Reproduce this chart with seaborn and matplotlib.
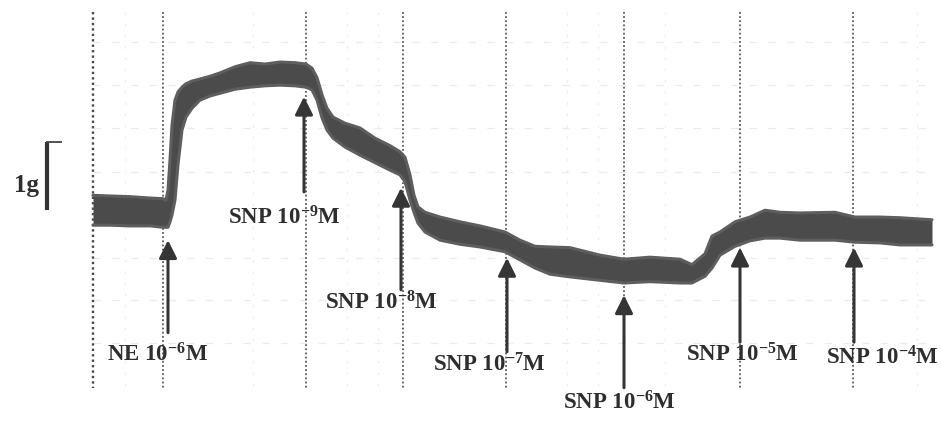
import matplotlib
matplotlib.use("Agg")
import matplotlib.pyplot as plt
import seaborn as sns
import pandas as pd

# ---- data (time in s, tension in g relative to baseline) ----
time_s = [0, 34, 74, 114, 140, 146, 150, 154, 158, 164, 170, 178, 186, 198, 214, 234,
          254, 284, 314, 344, 374, 404, 426, 438, 448, 458, 468, 480, 504, 534, 564,
          594, 614, 624, 634, 642, 650, 664, 694, 734, 774, 824, 854, 884, 914, 954,
          1014, 1062, 1114, 1174, 1198, 1224, 1238, 1254, 1284, 1314, 1344, 1374,
          1414, 1484, 1524, 1574, 1614, 1678]
tension_upper = [0.26, 0.25, 0.24, 0.22, 0.21, 0.19, 0.34, 0.78, 1.29, 1.66, 1.78, 1.85,
                 1.90, 1.94, 1.97, 2.01, 2.06, 2.15, 2.21, 2.19, 2.22, 2.21, 2.19, 2.13,
                 1.99, 1.74, 1.54, 1.41, 1.32, 1.25, 1.10, 0.99, 0.90, 0.82, 0.56, 0.26,
                 0.09, 0.01, -0.06, -0.13, -0.19, -0.28, -0.40, -0.49, -0.50, -0.51,
                 -0.62, -0.68, -0.65, -0.68, -0.76, -0.60, -0.34, -0.28, -0.13, -0.06,
                 0.04, 0.01, 0.00, 0.01, -0.06, -0.06, -0.07, -0.10]
tension_lower = [-0.18, -0.18, -0.19, -0.19, -0.21, -0.21, -0.21, -0.13, -0.03, 0.19,
                 0.71, 1.22, 1.41, 1.54, 1.66, 1.72, 1.76, 1.82, 1.85, 1.87, 1.88, 1.87,
                 1.85, 1.81, 1.66, 1.40, 1.22, 1.10, 0.97, 0.85, 0.74, 0.63, 0.56, 0.46,
                 0.19, 0.01, -0.15, -0.28, -0.40, -0.46, -0.50, -0.57, -0.69, -0.81,
                 -0.90, -0.94, -0.99, -1.03, -1.01, -1.03, -1.03, -0.93, -0.81, -0.62,
                 -0.49, -0.41, -0.37, -0.37, -0.40, -0.40, -0.43, -0.44, -0.47, -0.47]

# drug additions
event_times = [150, 422, 616, 828, 1062, 1294, 1522]
event_drugs = ["NE", "SNP", "SNP", "SNP", "SNP", "SNP", "SNP"]
event_exponents = ["-6", "-9", "-8", "-7", "-6", "-5", "-4"]

# chart-recorder event marker lines
marker_times = [0, 140, 426, 620, 826, 1062, 1294, 1520]
# faint chart paper grid
paper_grid_tension = [2.51, 1.88, 1.25, 0.60, -0.66, -1.28, -1.91]
paper_grid_time = [64, 320, 508, 570, 948, 1010, 1144, 1648]

# ---- layout constants ----
arrow_tip = [-0.40, 1.71, 0.37, -0.66, -1.21, -0.51, -0.51]
arrow_tail = [-1.76, 0.31, -1.13, -2.04, -2.57, -1.90, -1.90]
label_pos = [(130, -2.09), (382, -0.07), (576, -1.32), (792, -2.24),
             (1052, -2.79), (1298, -2.09), (1578, -2.13)]

sns.set_theme(style="white")
plt.rcParams["font.family"] = ["Liberation Serif", "DejaVu Serif"]
plt.rcParams["font.weight"] = "bold"
plt.rcParams["mathtext.fontset"] = "custom"
plt.rcParams["mathtext.rm"] = "Liberation Serif:bold"
plt.rcParams["mathtext.it"] = "Liberation Serif:bold"
plt.rcParams["mathtext.bf"] = "Liberation Serif:bold"

fig = plt.figure(figsize=(9.41, 4.22), dpi=100)
ax = fig.add_axes([0, 0, 1, 1])

# faint paper grid
for g in paper_grid_tension:
    ax.plot([0, 1684], [g, g], color="#ececec", lw=0.9, ls=(0, (6, 9)), zorder=0)
for t in paper_grid_time:
    ax.plot([t, t], [2.96, -2.57], color="#ededed", lw=0.9, ls=(0, (2, 7)), zorder=0)

# event marker lines
for i, t in enumerate(marker_times):
    ax.plot([t, t], [2.96, -2.57], color="#4a4a4a" if i == 0 else "#5a5a5a",
            lw=1.7 if i == 0 else 1.3, ls=(0, (1, 1.3)), zorder=1)

# tension trace band
df = pd.DataFrame({"time": time_s, "upper": tension_upper, "lower": tension_lower})
ax.fill_between(df["time"], df["lower"], df["upper"], color="#4b4b4b", lw=0, zorder=2)
sns.lineplot(data=df, x="time", y="upper", ax=ax, color="#5e5e5e", lw=2.2, zorder=3)
sns.lineplot(data=df, x="time", y="lower", ax=ax, color="#5e5e5e", lw=2.2, zorder=3)
ax.axis("off")
ax.set_xlim(-186, 1696)
ax.set_ylim(-3.074, 3.132)

# arrows and labels
for t, tip, tail, (lx, ly), drug, ex in zip(event_times, arrow_tip, arrow_tail,
                                            label_pos, event_drugs, event_exponents):
    ax.annotate("", xy=(t, tip), xytext=(t, tail),
                arrowprops=dict(arrowstyle="-|>,head_length=0.9,head_width=0.45",
                                lw=2.2, color="#353535", shrinkA=0, shrinkB=0),
                zorder=4)
    ax.text(lx, ly, drug + r" 10$^{" + ex + r"}$M", ha="center", va="center",
            fontsize=16.5, fontweight="bold", color="#2e2e2e", zorder=5)

# 1 g scale bar
ax.plot([-92, -92], [0.04, 1.04], color="#333333", lw=3, solid_capstyle="butt")
ax.plot([-93, -62], [1.04, 1.04], color="#444444", lw=1.3, solid_capstyle="butt")
ax.text(-108, 0.40, "1g", ha="right", va="center", fontsize=18,
        fontweight="bold", color="#2e2e2e")

fig.savefig("out.png", dpi=100)
